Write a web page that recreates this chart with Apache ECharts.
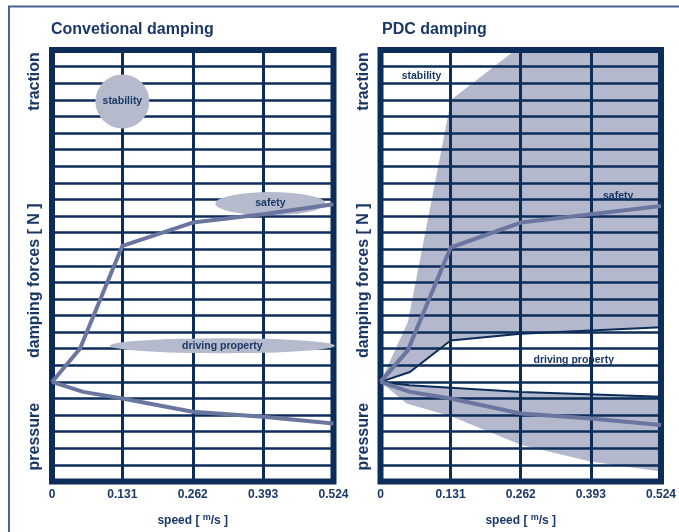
<!DOCTYPE html>
<html>
<head>
<meta charset="utf-8">
<title>damping</title>
<style>
html, body { margin: 0; padding: 0; background: #fff; }
#chart { width: 679px; height: 532px; }
</style>
<script src="https://cdn.jsdelivr.net/npm/echarts@6/dist/echarts.min.js"></script>
</head>
<body>
<div id="chart"></div>
<script>
// speed axis [m/s]
var speedTicks = [0, 0.131, 0.262, 0.393, 0.524]
// force axis, one row per unit, origin = 0
var forceMin = -6
var forceMax = 20

// conventional damping [speed, force]
var convTraction = [[0, 0], [0.052, 2.0], [0.131, 8.2], [0.262, 9.6], [0.393, 10.1], [0.524, 10.7]]
var convPressure = [[0, 0], [0.058, -0.6], [0.131, -1.0], [0.262, -1.8], [0.393, -2.1], [0.524, -2.5]]
var convZones = [['stability', 0.131, 16.9], ['safety', 0.4065, 10.75], ['driving property', 0.317, 2.18]]

// PDC damping [speed, force]
var pdcTraction = [[0, 0], [0.051, 1.9], [0.131, 8.1], [0.262, 9.6], [0.393, 10.1], [0.524, 10.6]]
var pdcPressure = [[0, 0], [0.055, -0.6], [0.131, -1.0], [0.262, -1.9], [0.393, -2.2], [0.524, -2.6]]
var pdcSoftUpper = [[0, 0], [0.055, 0.6], [0.131, 2.5], [0.262, 2.9], [0.524, 3.3]]
var pdcSoftLower = [[0, 0], [0.054, -0.2], [0.263, -0.6], [0.524, -0.9]]
var pdcHardUpper = [[0, 0], [0.051, 3.6], [0.132, 17], [0.252, 20], [0.524, 20]]
var pdcHardLower = [[0, 0], [0.049, -1.3], [0.134, -2.1], [0.263, -3.8], [0.392, -4.8], [0.524, -5.4]]
var pdcZones = [['stability', 0.0766, 18.4], ['safety', 0.444, 11.2], ['driving property', 0.361, 1.3]]

// axis names along the force axis
var forceNames = [['traction', 18.1], ['damping forces [ N ]', 6.1], ['pressure', -3.3]]

var navy = '#0c2c59'
var textNavy = '#1a3866'
var curveColor = '#6b76a0'
var shadeColor = '#b3b8cc'
var zoneColor = '#b5bacd'
var font = '"Liberation Sans", Arial, Helvetica, sans-serif'
var zoneSizes = { 'stability': [54, 54], 'safety': [110, 23], 'driving property': [225, 15] }

var chart = echarts.init(document.getElementById('chart'), null, { renderer: 'canvas' })

function xAxisFor(gridIndex) {
    return {
        type: 'value',
        gridIndex: gridIndex,
        min: speedTicks[0],
        max: speedTicks[speedTicks.length - 1],
        interval: speedTicks[1],
        axisLine: { show: false },
        axisTick: { show: false },
        splitLine: { show: true, lineStyle: { color: navy, width: 3 } },
        axisLabel: {
            margin: 7,
            color: textNavy,
            fontSize: 12,
            fontWeight: 'bold',
            fontFamily: font,
            formatter: function (v) {
                var best = speedTicks[0]
                speedTicks.forEach(function (t) {
                    if (Math.abs(t - v) < Math.abs(best - v)) best = t
                })
                return String(best)
            },
        },
        name: 'speed [ {sup|m}/s ]',
        nameLocation: 'middle',
        nameGap: 32,
        nameTextStyle: {
            color: textNavy,
            fontSize: 12,
            fontWeight: 'bold',
            fontFamily: font,
            rich: {
                sup: { fontSize: 9, fontWeight: 'bold', color: textNavy, fontFamily: font, padding: [0, 0, 6, 0] },
            },
        },
    }
}

function yAxisFor(gridIndex) {
    return {
        type: 'value',
        gridIndex: gridIndex,
        min: forceMin,
        max: forceMax,
        interval: 1,
        axisLine: { show: false },
        axisTick: { show: false },
        axisLabel: { show: false },
        splitLine: { show: true, lineStyle: { color: navy, width: 2.5 } },
    }
}

function curve(data, idx) {
    return {
        type: 'line',
        xAxisIndex: idx,
        yAxisIndex: idx,
        data: data,
        symbol: 'none',
        z: 4,
        lineStyle: { color: curveColor, width: 4 },
        animation: false,
    }
}

function thinLine(data, idx) {
    return {
        type: 'line',
        xAxisIndex: idx,
        yAxisIndex: idx,
        data: data,
        symbol: 'none',
        z: 3,
        lineStyle: { color: navy, width: 2 },
        animation: false,
    }
}

function shade(points, idx) {
    return {
        type: 'custom',
        xAxisIndex: idx,
        yAxisIndex: idx,
        data: [points[0]],
        z: -1,
        clip: true,
        animation: false,
        silent: true,
        renderItem: function (params, api) {
            return {
                type: 'polygon',
                shape: { points: points.map(function (p) { return api.coord(p) }) },
                style: { fill: shadeColor },
            }
        },
    }
}

function zones(list, idx, filled) {
    return {
        type: 'scatter',
        xAxisIndex: idx,
        yAxisIndex: idx,
        z: 2,
        animation: false,
        data: list.map(function (z) {
            return {
                name: z[0],
                value: [z[1], z[2]],
                symbolSize: filled ? zoneSizes[z[0]] : [1, 1],
            }
        }),
        itemStyle: { color: filled ? zoneColor : 'rgba(0,0,0,0)', opacity: 1 },
        label: {
            show: true,
            position: 'inside',
            formatter: '{b}',
            color: textNavy,
            fontSize: 10.5,
            fontWeight: 'bold',
            fontFamily: font,
        },
    }
}

var hardTop = pdcHardUpper.concat(pdcSoftUpper.slice().reverse())
var hardBottom = pdcSoftLower.concat(pdcHardLower.slice().reverse())

var titleStyle = { color: textNavy, fontSize: 16, fontWeight: 'bold', fontFamily: font }

chart.setOption({
    backgroundColor: '#fff',
    animation: false,
    title: [
        { text: 'Convetional damping', left: 51, top: 22, padding: 0, textStyle: titleStyle },
        { text: 'PDC damping', left: 382, top: 22, padding: 0, textStyle: titleStyle },
    ],
    grid: [
        { left: 52, right: 345.5, top: 50, bottom: 49, show: true, borderColor: navy, borderWidth: 6 },
        { left: 380.5, right: 15.5, top: 50, bottom: 49, show: true, borderColor: navy, borderWidth: 6 },
    ],
    xAxis: [xAxisFor(0), xAxisFor(1)],
    yAxis: [yAxisFor(0), yAxisFor(1)],
    series: [
        zones(convZones, 0, true),
        curve(convTraction, 0),
        curve(convPressure, 0),
        shade(hardTop, 1),
        shade(hardBottom, 1),
        thinLine(pdcSoftUpper, 1),
        thinLine(pdcSoftLower, 1),
        curve(pdcTraction, 1),
        curve(pdcPressure, 1),
        zones(pdcZones, 1, false),
    ],
})

// rotated force labels and the outer frame
var graphics = [{
    type: 'polyline',
    shape: { points: [[9, 532], [9, 6.5], [679, 6.5]] },
    style: { stroke: '#4a6390', lineWidth: 2, fill: null },
    silent: true,
}]
;[0, 1].forEach(function (g) {
    forceNames.forEach(function (n) {
        var p = chart.convertToPixel({ gridIndex: g }, [0, n[1]])
        graphics.push({
            type: 'text',
            x: p[0] - 17,
            y: p[1],
            rotation: Math.PI / 2,
            silent: true,
            style: {
                text: n[0],
                fill: textNavy,
                fontSize: 16,
                fontWeight: 'bold',
                fontFamily: font,
                align: 'center',
                verticalAlign: 'middle',
            },
        })
    })
})
chart.setOption({ graphic: graphics })
</script>
</body>
</html>
